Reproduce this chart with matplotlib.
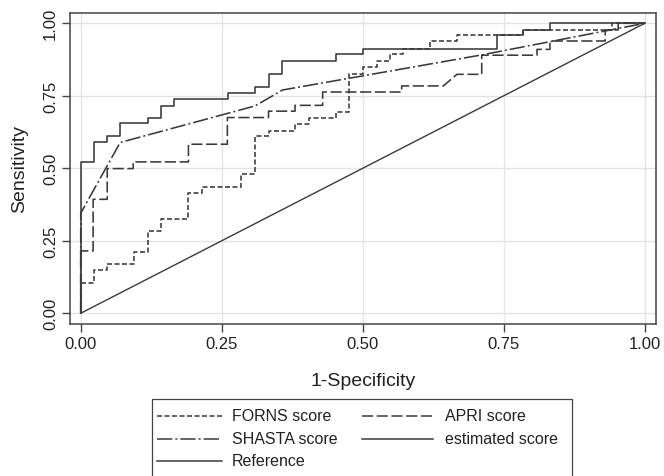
import matplotlib
matplotlib.use('Agg')
import matplotlib.pyplot as plt
from matplotlib.lines import Line2D
from matplotlib.patches import Rectangle

# ROC curve vertices (1-specificity, sensitivity)
forns_fpr = [0, 0, 0.023, 0.023, 0.047, 0.047, 0.094, 0.094, 0.119, 0.119, 0.142, 0.142,
             0.191, 0.191, 0.215, 0.215, 0.285, 0.285, 0.309, 0.309, 0.333, 0.333, 0.380, 0.380,
             0.404, 0.404, 0.453, 0.453, 0.476, 0.476, 0.501, 0.501, 0.525, 0.525, 0.548, 0.548,
             0.572, 0.572, 0.619, 0.619, 0.667, 0.667, 0.785, 0.785, 0.942, 0.942, 1.0]
forns_tpr = [0, 0.106, 0.106, 0.149, 0.149, 0.169, 0.169, 0.213, 0.213, 0.284, 0.284, 0.326,
             0.326, 0.416, 0.416, 0.437, 0.437, 0.479, 0.479, 0.611, 0.611, 0.629, 0.629, 0.652,
             0.652, 0.675, 0.675, 0.694, 0.694, 0.824, 0.824, 0.850, 0.850, 0.870, 0.870, 0.893,
             0.893, 0.913, 0.913, 0.939, 0.939, 0.958, 0.958, 0.977, 0.977, 1.0, 1.0]

apri_fpr = [0, 0, 0.022, 0.022, 0.047, 0.047, 0.093, 0.093, 0.191, 0.191, 0.260, 0.260,
            0.333, 0.333, 0.380, 0.380, 0.429, 0.429, 0.569, 0.569, 0.643, 0.667, 0.711, 0.711,
            0.809, 0.809, 0.832, 0.832, 0.930, 0.930, 0.953, 0.953, 1.0]
apri_tpr = [0, 0.215, 0.215, 0.393, 0.393, 0.499, 0.499, 0.522, 0.522, 0.583, 0.583, 0.675,
            0.675, 0.697, 0.697, 0.717, 0.717, 0.763, 0.763, 0.784, 0.784, 0.824, 0.824, 0.890,
            0.890, 0.910, 0.910, 0.939, 0.939, 0.977, 0.977, 1.0, 1.0]

shasta_fpr = [0, 0, 0.070, 0.309, 0.358, 0.711, 1.0]
shasta_tpr = [0, 0.345, 0.589, 0.715, 0.770, 0.891, 1.0]

est_fpr = [0, 0, 0.023, 0.023, 0.047, 0.047, 0.070, 0.070, 0.119, 0.119, 0.143, 0.143,
           0.166, 0.166, 0.262, 0.262, 0.309, 0.309, 0.333, 0.333, 0.357, 0.357, 0.453, 0.453,
           0.500, 0.500, 0.738, 0.738, 0.785, 0.785, 0.832, 0.832, 1.0]
est_tpr = [0, 0.522, 0.522, 0.589, 0.589, 0.611, 0.611, 0.655, 0.655, 0.675, 0.675, 0.715,
           0.715, 0.738, 0.738, 0.760, 0.760, 0.782, 0.782, 0.826, 0.826, 0.871, 0.871, 0.893,
           0.893, 0.913, 0.913, 0.958, 0.958, 0.977, 0.977, 1.0, 1.0]

ref_fpr = [0, 1]
ref_tpr = [0, 1]

ticks = [0, 0.25, 0.5, 0.75, 1.0]
tick_labels = ['0.00', '0.25', '0.50', '0.75', '1.00']

plt.rcParams['font.family'] = ['Liberation Sans', 'DejaVu Sans']
plt.rcParams['lines.scale_dashes'] = False

ink = '#3a3a3a'
W, H = 664, 477

fig = plt.figure(figsize=(W / 100, H / 100), dpi=100)
ax = fig.add_axes([70 / W, 1 - 325 / H, 586 / W, 311 / H])

styles = {
    'FORNS score': dict(dashes=(3.6, 1.8)),
    'APRI score': dict(dashes=(8, 2.6)),
    'SHASTA score': dict(dashes=(11, 2.2, 1.4, 2.2)),
    'estimated score': dict(linestyle='-'),
    'Reference': dict(linestyle='-'),
}

ax.plot(ref_fpr, ref_tpr, color=ink, lw=1.0, **styles['Reference'])
ax.plot(forns_fpr, forns_tpr, color=ink, lw=1.15, **styles['FORNS score'])
ax.plot(apri_fpr, apri_tpr, color=ink, lw=1.15, **styles['APRI score'])
ax.plot(shasta_fpr, shasta_tpr, color=ink, lw=1.15, **styles['SHASTA score'])
ax.plot(est_fpr, est_tpr, color=ink, lw=1.15, **styles['estimated score'])

ax.set_xlim(-0.019, 1.020)
ax.set_ylim(-0.037, 1.0355)
ax.set_xticks(ticks)
ax.set_xticklabels(tick_labels)
ax.set_yticks(ticks)
ax.set_yticklabels(tick_labels, rotation=90, va='center')
ax.grid(True, color='#e4e4e4', lw=1.0)
ax.set_axisbelow(True)
ax.tick_params(direction='out', length=5.5, width=1.0, color='#444444',
               labelsize=12, labelcolor='#222222', pad=3)
for s in ax.spines.values():
    s.set_color('#444444')
    s.set_linewidth(1.1)

ax.set_xlabel('1-Specificity', fontsize=14, color='#222222')
ax.set_ylabel('Sensitivity', fontsize=14, color='#222222')
ax.xaxis.set_label_coords(0.5, (325 - 381) / 311)
ax.xaxis.label.set_va('center')
ax.yaxis.set_label_coords((20 - 70) / 586, 0.5)
ax.yaxis.label.set_va('center')

# legend box below the plot, running off the bottom edge
fx = lambda px: px / W
fy = lambda py: 1 - py / H
fig.add_artist(Rectangle((fx(152), fy(490)), fx(572) - fx(152), fy(400) - fy(490),
                         transform=fig.transFigure, fill=False, edgecolor='#444444',
                         lw=0.9, clip_on=False))
entries = [('FORNS score', 157, 222, 232, 417), ('APRI score', 362, 433, 445, 417),
           ('SHASTA score', 157, 222, 232, 440), ('estimated score', 362, 433, 445, 440),
           ('Reference', 157, 222, 232, 462)]
for label, x0, x1, xt, yr in entries:
    fig.add_artist(Line2D([fx(x0), fx(x1)], [fy(yr), fy(yr)], transform=fig.transFigure,
                          color=ink, lw=1.1, **styles[label]))
    fig.text(fx(xt), fy(yr), label, fontsize=11.5, color='#222222', va='center', ha='left')

fig.savefig('out.png', dpi=100)
